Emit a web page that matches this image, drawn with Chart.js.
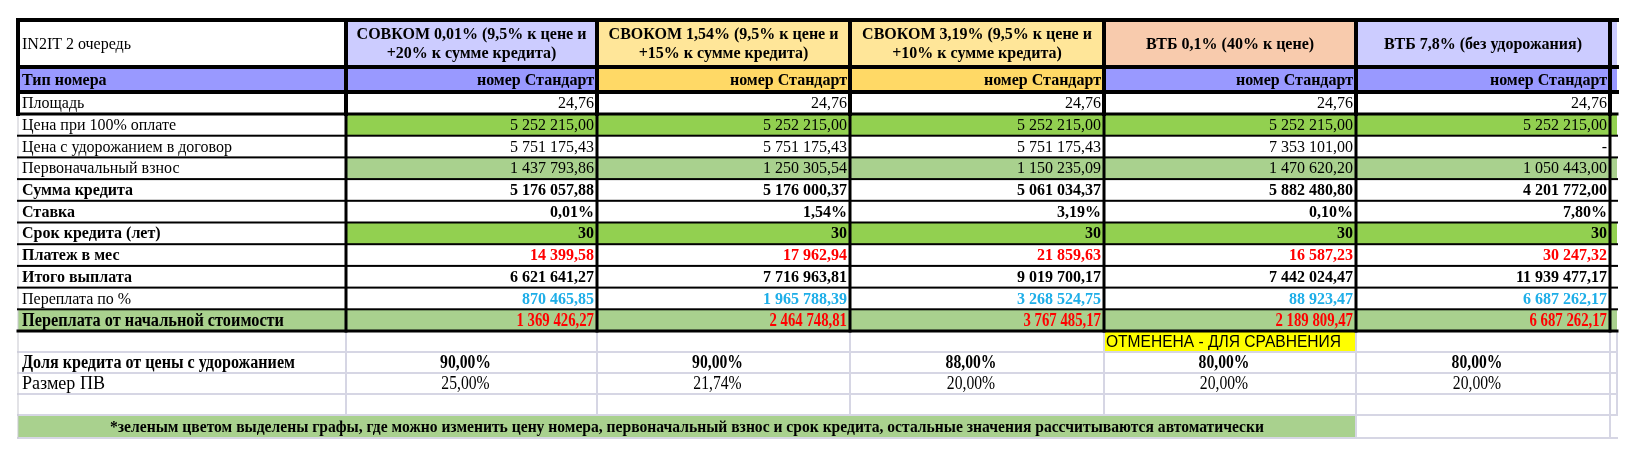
<!DOCTYPE html>
<html>
<head>
<meta charset="utf-8">
<script src="https://cdn.jsdelivr.net/npm/chart.js@4.4.1/dist/chart.umd.min.js"></script>
<style>
    html, body { margin: 0; padding: 0; background: #fff; }
    #wrap { width: 1636px; height: 468px; position: relative; }
</style>
</head>
<body>
<div id="wrap"><canvas id="loanTable"></canvas></div>
<script>
// ===== DATA =====
const tableTitle = 'IN2IT 2 очередь';
const bankNames = [
    ['СОВКОМ 0,01% (9,5% к цене и', '+20% к сумме кредита)'],
    ['СВОКОМ 1,54% (9,5% к цене и', '+15% к сумме кредита)'],
    ['СВОКОМ 3,19% (9,5% к цене и', '+10% к сумме кредита)'],
    ['ВТБ 0,1% (40% к цене)'],
    ['ВТБ 7,8% (без удорожания)'],
    ['']
];
const rowLabels = [
    'Тип номера', 'Площадь', 'Цена при 100% оплате', 'Цена с удорожанием в договор',
    'Первоначальный взнос', 'Сумма кредита', 'Ставка', 'Срок кредита (лет)',
    'Платеж в мес', 'Итого выплата', 'Переплата по %', 'Переплата от начальной стоимости',
    '', 'Доля кредита от цены с удорожанием', 'Размер ПВ', ''
];
const roomType = ['номер Стандарт', 'номер Стандарт', 'номер Стандарт', 'номер Стандарт', 'номер Стандарт', ''];
const area = ['24,76', '24,76', '24,76', '24,76', '24,76', ''];
const priceFull = ['5 252 215,00', '5 252 215,00', '5 252 215,00', '5 252 215,00', '5 252 215,00', ''];
const priceMarkup = ['5 751 175,43', '5 751 175,43', '5 751 175,43', '7 353 101,00', '-', ''];
const downPayment = ['1 437 793,86', '1 250 305,54', '1 150 235,09', '1 470 620,20', '1 050 443,00', ''];
const loanSum = ['5 176 057,88', '5 176 000,37', '5 061 034,37', '5 882 480,80', '4 201 772,00', ''];
const rate = ['0,01%', '1,54%', '3,19%', '0,10%', '7,80%', ''];
const term = ['30', '30', '30', '30', '30', ''];
const monthly = ['14 399,58', '17 962,94', '21 859,63', '16 587,23', '30 247,32', ''];
const totalPaid = ['6 621 641,27', '7 716 963,81', '9 019 700,17', '7 442 024,47', '11 939 477,17', ''];
const overpayInterest = ['870 465,85', '1 965 788,39', '3 268 524,75', '88 923,47', '6 687 262,17', ''];
const overpayTotal = ['1 369 426,27', '2 464 748,81', '3 767 485,17', '2 189 809,47', '6 687 262,17', ''];
const cancelled = ['', '', '', 'ОТМЕНЕНА - ДЛЯ СРАВНЕНИЯ', '', ''];
const loanShare = ['90,00%', '90,00%', '88,00%', '80,00%', '80,00%', ''];
const downShare = ['25,00%', '21,74%', '20,00%', '20,00%', '20,00%', ''];
const footNote = '*зеленым цветом выделены графы, где можно изменить цену номера, первоначальный взнос и срок кредита, остальные значения рассчитываются автоматически';

// ===== LAYOUT & STYLE =====
const W = 1636, H = 468;
const colEdges = [18, 346, 597, 850, 1104, 1356, 1610, 1617];
const rowHeights = [47, 25, 22, 21.7, 21.7, 21.7, 21.7, 21.7, 21.7, 21.7, 21.7, 21.7, 21.7, 21, 21, 21, 21, 23];
const rowEdges = [20];
rowHeights.forEach(h => rowEdges.push(rowEdges[rowEdges.length - 1] + h));

const SERIF = '"Liberation Serif", "Times New Roman", serif';
const GREEN = '#92d050', LIGHT_GREEN = '#a9d18e';
const RED = '#ff0000', BLUE = '#1eaee8';
const GRID_GRAY = '#d6d6e4';

const headerFill = ['#ffffff', '#ccccff', '#ffe699', '#ffe699', '#f8cbad', '#ccccff', '#ccccff'];
const typeFill = ['#9999ff', '#9999ff', '#ffd966', '#ffd966', '#9999ff', '#9999ff', '#9999ff'];

// rows below the header: values + how to paint them
const bodyRows = [
    { values: roomType, bold: true, labelBold: true, fill: typeFill },
    { values: area },
    { values: priceFull, valueFill: GREEN },
    { values: priceMarkup },
    { values: downPayment, valueFill: LIGHT_GREEN },
    { values: loanSum, bold: true, labelBold: true },
    { values: rate, bold: true, labelBold: true },
    { values: term, bold: true, labelBold: true, valueFill: GREEN },
    { values: monthly, bold: true, labelBold: true, color: RED },
    { values: totalPaid, bold: true, labelBold: true },
    { values: overpayInterest, bold: true, color: BLUE },
    { values: overpayTotal, bold: true, labelBold: true, color: RED, fillAll: LIGHT_GREEN, condensed: true, labelFit: 262 },
    { values: cancelled, cancel: true },
    { values: loanShare, bold: true, labelBold: true, condensed: true, center: true, labelFit: 273 },
    { values: downShare, condensed: true, center: true, labelFit: 83 },
    { values: ['', '', '', '', '', ''] }
];

function drawText(ctx, text, x, y, align, font, color, sx) {
    if (!text) return;
    ctx.save();
    ctx.font = font;
    ctx.fillStyle = color;
    ctx.textBaseline = 'middle';
    ctx.textAlign = align;
    ctx.translate(x, y);
    ctx.scale(sx || 1, 1);
    ctx.fillText(text, 0, 0);
    ctx.restore();
}

function fitScale(ctx, text, font, width) {
    ctx.save();
    ctx.font = font;
    const w = ctx.measureText(text).width;
    ctx.restore();
    return width / w;
}

// ===== TABLE PLUGIN =====
const tablePlugin = {
    id: 'tablePlugin',
    afterDraw(chart) {
        const ctx = chart.ctx;
        const px = v => chart.scales.x.getPixelForValue(v);
        const py = v => chart.scales.y.getPixelForValue(v);
        const rect = (x0, y0, x1, y1, color) => {
            ctx.fillStyle = color;
            ctx.fillRect(px(x0), py(y0), px(x1) - px(x0), py(y1) - py(y0));
        };
        const hLine = (y, x0, x1, w, color) => {
            ctx.fillStyle = color;
            ctx.fillRect(px(x0) - w / 2, py(y) - w / 2, px(x1) - px(x0) + w, w);
        };
        const vLine = (x, y0, y1, w, color) => {
            ctx.fillStyle = color;
            ctx.fillRect(px(x) - w / 2, py(y0) - w / 2, w, py(y1) - py(y0) + w);
        };
        const nCols = colEdges.length - 1;
        const xL = colEdges[0], xR = colEdges[nCols];

        ctx.save();
        ctx.beginPath();
        ctx.rect(0, 0, W, H);
        ctx.clip();

        // ---- fills ----
        for (let c = 0; c < nCols; c++) {
            rect(colEdges[c], rowEdges[0], colEdges[c + 1], rowEdges[1], headerFill[c]);
        }
        bodyRows.forEach((row, i) => {
            const y0 = rowEdges[i + 1], y1 = rowEdges[i + 2];
            for (let c = 0; c < nCols; c++) {
                let f = null;
                if (row.fill) f = row.fill[c];
                else if (row.fillAll) f = row.fillAll;
                else if (row.valueFill && c > 0) f = row.valueFill;
                if (row.cancel && c > 0 && row.values[c - 1]) f = '#ffff00';
                if (f) rect(colEdges[c], y0, colEdges[c + 1], y1, f);
            }
        });
        const noteRow = rowEdges.length - 2;
        rect(colEdges[0], rowEdges[noteRow], colEdges[5], rowEdges[noteRow + 1], LIGHT_GREEN);

        // ---- lower grid (gray) ----
        const yBlack = rowEdges[13];
        for (let r = 14; r <= rowEdges.length - 1; r++) hLine(rowEdges[r], xL, xR, 2, GRID_GRAY);
        for (let c = 1; c < colEdges.length; c++) vLine(colEdges[c], yBlack, rowEdges[noteRow], 2, GRID_GRAY);
        vLine(colEdges[5], rowEdges[noteRow], rowEdges[noteRow + 1], 2, GRID_GRAY);
        vLine(colEdges[6], rowEdges[noteRow], rowEdges[noteRow + 1], 2, GRID_GRAY);
        vLine(xL, rowEdges[3], rowEdges[noteRow + 1], 1, '#c8c8d0');

        // ---- black grid ----
        for (let r = 4; r <= 12; r++) hLine(rowEdges[r], xL, xR, 2, '#000');
        hLine(yBlack, xL, xR, 3, '#000');
        for (let c = 1; c < colEdges.length - 1; c++) vLine(colEdges[c], rowEdges[0], yBlack, 3, '#000');
        // thick frame round the top block
        hLine(rowEdges[0], xL, xR, 4, '#000');
        hLine(rowEdges[1], xL, xR, 4, '#000');
        hLine(rowEdges[2], xL, xR, 4, '#000');
        hLine(rowEdges[3], xL, xR, 3, '#000');
        for (let c = 0; c < colEdges.length - 1; c++) vLine(colEdges[c], rowEdges[0], rowEdges[3], 4, '#000');

        // ---- texts ----
        const reg = s => `${s}px ${SERIF}`;
        const bold = s => `bold ${s}px ${SERIF}`;
        const midY = (a, b) => (py(a) + py(b)) / 2 + 1;

        // header
        drawText(ctx, tableTitle, px(xL + 4), midY(rowEdges[0], rowEdges[1]), 'left', reg(16), '#000');
        bankNames.forEach((lines, i) => {
            const cx = (px(colEdges[i + 1]) + px(colEdges[i + 2])) / 2;
            const cy = midY(rowEdges[0], rowEdges[1]);
            if (lines.length === 2) {
                drawText(ctx, lines[0], cx, cy - 10, 'center', bold(16), '#000');
                drawText(ctx, lines[1], cx, cy + 9, 'center', bold(16), '#000');
            } else {
                drawText(ctx, lines[0], cx, cy, 'center', bold(16), '#000');
            }
        });

        bodyRows.forEach((row, i) => {
            const cy = midY(rowEdges[i + 1], rowEdges[i + 2]);
            const label = rowLabels[i];
            if (label) {
                const lf = row.condensed ? (row.labelBold ? bold(18) : reg(18)) : (row.labelBold ? bold(16) : reg(16));
                const sx = row.labelFit ? fitScale(ctx, label, lf, row.labelFit) : 1;
                drawText(ctx, label, px(xL + 4), cy, 'left', lf, '#000', sx);
            }
            row.values.forEach((v, c) => {
                if (!v) return;
                const x0 = colEdges[c + 1], x1 = colEdges[c + 2];
                if (row.cancel) {
                    const f = `17px "Liberation Sans", Arial, sans-serif`;
                    drawText(ctx, v, px(x0) + 2, cy, 'left', f, '#000', fitScale(ctx, v, f, 235));
                } else if (row.center) {
                    const f = row.bold ? bold(18) : reg(18);
                    drawText(ctx, v, (px(x0) + px(x1)) / 2 - 6, cy, 'center', f, '#000', 0.87);
                } else {
                    const f = row.condensed ? bold(18) : (row.bold ? bold(16) : reg(16));
                    drawText(ctx, v, px(x1) - 3, cy, 'right', f, row.color || '#000', row.condensed ? 0.82 : 1);
                }
            });
        });

        // footnote
        const nf = bold(17);
        const ncx = (px(colEdges[0]) + px(colEdges[5])) / 2;
        drawText(ctx, footNote, ncx, midY(rowEdges[noteRow], rowEdges[noteRow + 1]), 'center', nf, '#000',
            fitScale(ctx, footNote, nf, 1154));

        ctx.restore();
    }
};

// ===== CHART =====
new Chart(document.getElementById('loanTable'), {
    type: 'scatter',
    data: { datasets: [{ data: [] }] },
    options: {
        responsive: true,
        maintainAspectRatio: false,
        animation: false,
        layout: { padding: 0 },
        plugins: { legend: { display: false }, tooltip: { enabled: false } },
        scales: {
            x: { type: 'linear', min: 0, max: W, display: false },
            y: { type: 'linear', min: 0, max: H, reverse: true, display: false }
        }
    },
    plugins: [tablePlugin]
});
</script>
</body>
</html>
